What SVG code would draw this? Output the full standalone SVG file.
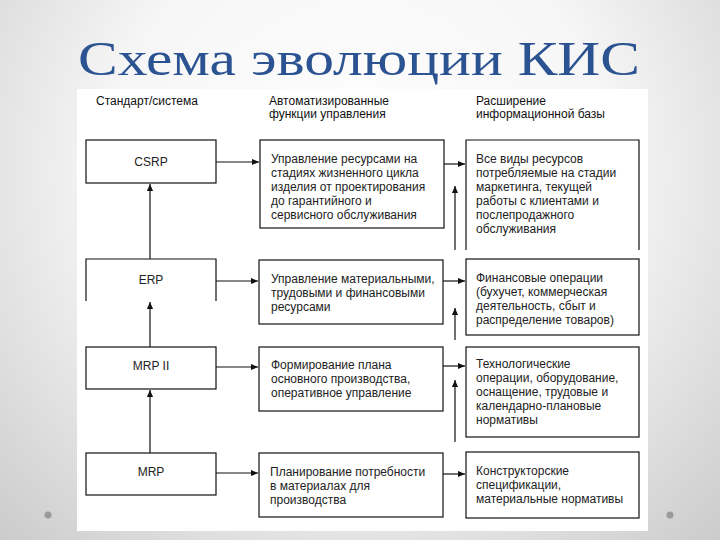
<svg xmlns="http://www.w3.org/2000/svg" width="720" height="540" viewBox="0 0 720 540">
<defs>
<radialGradient id="bg" cx="360" cy="170" r="560" gradientUnits="userSpaceOnUse">
<stop offset="0" stop-color="#ffffff"/>
<stop offset="0.45" stop-color="#f6f6f6"/>
<stop offset="1" stop-color="#c4c4c4"/>
</radialGradient>
<marker id="ah" viewBox="0 0 8 8" refX="8" refY="4" markerWidth="7" markerHeight="7" markerUnits="userSpaceOnUse" orient="auto">
<path d="M0,0.5 L8,4 L0,7.5 Z" fill="#111"/>
</marker>
<style>
.box{fill:#fff;stroke:#111;stroke-width:1.2}
.open{fill:none;stroke:#111;stroke-width:1.2}
.t{font-family:"Liberation Sans",Arial,sans-serif;font-size:12px;fill:#222}
.h{font-family:"Liberation Sans",Arial,sans-serif;font-size:12px;fill:#111}
.c{text-anchor:middle}
.ln{stroke:#111;stroke-width:1.2;fill:none;marker-end:url(#ah)}
.ln2{stroke:#111;stroke-width:1.2;fill:none}
</style>
</defs>
<rect x="0" y="0" width="720" height="540" fill="url(#bg)"/>
<rect x="77" y="89" width="571" height="442" fill="#ffffff"/>
<circle cx="48" cy="515" r="3.5" fill="#9a9a9a"/>
<circle cx="670" cy="515" r="3.5" fill="#9a9a9a"/>
<text x="78" y="75" font-family="'Liberation Serif','Times New Roman',serif" font-size="48" fill="#2c5391" textLength="562" lengthAdjust="spacingAndGlyphs">Схема эволюции КИС</text>

<g id="headers">
<text class="h" x="96" y="105">Стандарт/система</text>
<text class="h" x="269" y="105">Автоматизированные</text>
<text class="h" x="269" y="118">функции управления</text>
<text class="h" x="476" y="105">Расширение</text>
<text class="h" x="476" y="118">информационной базы</text>
</g>

<g id="csrp">
<rect class="box" x="86" y="140" width="130" height="43"/>
<text class="t c" x="151" y="166">CSRP</text>
</g>
<g id="erp">
<path class="open" d="M86,301 V259 H216 V301"/>
<text class="t c" x="151" y="284">ERP</text>
</g>
<g id="mrp2">
<rect class="box" x="86" y="347" width="130" height="42"/>
<text class="t c" x="151" y="370">MRP II</text>
</g>
<g id="mrp">
<rect class="box" x="86" y="453" width="130" height="42"/>
<text class="t c" x="151" y="476">MRP</text>
</g>

<g id="f1">
<rect class="box" x="260" y="140" width="184" height="88"/>
<text class="t" x="271" y="163">Управление ресурсами на</text>
<text class="t" x="271" y="177">стадиях жизненного цикла</text>
<text class="t" x="271" y="191">изделия от проектирования</text>
<text class="t" x="271" y="205">до гарантийного и</text>
<text class="t" x="271" y="219">сервисного обслуживания</text>
</g>
<g id="f2">
<rect class="box" x="259" y="260" width="184" height="64"/>
<text class="t" x="271" y="283">Управление материальными,</text>
<text class="t" x="271" y="297">трудовыми и финансовыми</text>
<text class="t" x="271" y="311">ресурсами</text>
</g>
<g id="f3">
<rect class="box" x="259" y="347" width="184" height="64"/>
<text class="t" x="271" y="369">Формирование плана</text>
<text class="t" x="271" y="383">основного производства,</text>
<text class="t" x="271" y="397">оперативное управление</text>
</g>
<g id="f4">
<rect class="box" x="259" y="453" width="184" height="64"/>
<text class="t" x="270" y="476">Планирование потребности</text>
<text class="t" x="270" y="490">в материалах для</text>
<text class="t" x="270" y="504">производства</text>
</g>

<g id="i1">
<path class="open" d="M466,250 V140 H639 V250"/>
<text class="t" x="476" y="163">Все виды ресурсов</text>
<text class="t" x="476" y="177">потребляемые на стадии</text>
<text class="t" x="476" y="191">маркетинга, текущей</text>
<text class="t" x="476" y="205">работы с клиентами и</text>
<text class="t" x="476" y="219">послепродажного</text>
<text class="t" x="476" y="233">обслуживания</text>
</g>
<g id="i2">
<rect class="box" x="466" y="259" width="173" height="76"/>
<text class="t" x="476" y="282">Финансовые операции</text>
<text class="t" x="476" y="296">(бухучет, коммерческая</text>
<text class="t" x="476" y="310">деятельность, сбыт и</text>
<text class="t" x="476" y="324">распределение товаров)</text>
</g>
<g id="i3">
<rect class="box" x="466" y="347" width="173" height="90"/>
<text class="t" x="476" y="368">Технологические</text>
<text class="t" x="476" y="382">операции, оборудование,</text>
<text class="t" x="476" y="396">оснащение, трудовые и</text>
<text class="t" x="476" y="410">календарно-плановые</text>
<text class="t" x="476" y="424">нормативы</text>
</g>
<g id="i4">
<rect class="box" x="466" y="452" width="173" height="66"/>
<text class="t" x="476" y="475">Конструкторские</text>
<text class="t" x="476" y="489">спецификации,</text>
<text class="t" x="476" y="503">материальные нормативы</text>
</g>

<g id="connectors">
<line class="ln" x1="150" y1="259" x2="150" y2="184"/>
<line class="ln" x1="150" y1="347" x2="150" y2="302"/>
<line class="ln" x1="150" y1="453" x2="150" y2="390"/>
<line class="ln" x1="216" y1="162" x2="259" y2="162"/>
<line class="ln" x1="216" y1="281" x2="258" y2="281"/>
<line class="ln" x1="216" y1="367" x2="258" y2="367"/>
<line class="ln" x1="216" y1="473" x2="258" y2="473"/>
<line class="ln" x1="444" y1="164" x2="465" y2="164"/>
<line class="ln" x1="443" y1="281" x2="465" y2="281"/>
<line class="ln" x1="443" y1="366" x2="465" y2="366"/>
<line class="ln" x1="443" y1="474" x2="465" y2="474"/>
<line class="ln" x1="455" y1="250" x2="455" y2="186"/>
<line class="ln" x1="455" y1="340" x2="455" y2="308"/>
<line class="ln" x1="455" y1="442" x2="455" y2="380"/>
</g>
</svg>
